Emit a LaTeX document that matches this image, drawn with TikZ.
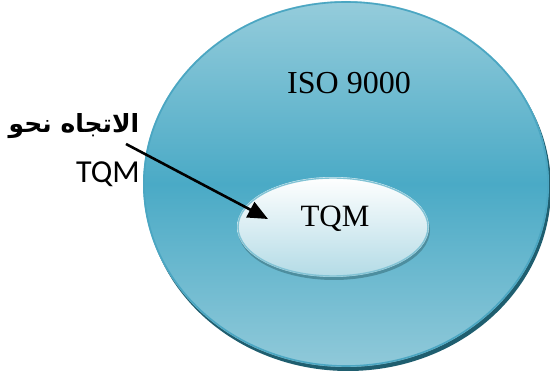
\documentclass[tikz,border=0pt]{standalone}
\usepackage{fontspec}
\setmainfont{Liberation Serif}
\newfontfamily\arabicfont[Script=Arabic]{DejaVu Sans}
\newfontfamily\labelsans{Carlito}
\TeXXeTstate=1
\usetikzlibrary{arrows.meta}
\definecolor{outerTop}{HTML}{95CCDB}
\definecolor{outerMid}{HTML}{4AAAC6}
\definecolor{outerBot}{HTML}{90C9D9}
\definecolor{outerEdge}{HTML}{4BA6C2}
\definecolor{outerShadow}{HTML}{1F5E6F}
\definecolor{innerBot}{HTML}{B3DBE6}
\definecolor{innerEdge}{HTML}{82C3D5}
\definecolor{innerShadow}{HTML}{4D8E9F}
\tikzset{
  pointer/.style={line width=2.6pt,-{Triangle[length=20pt,width=17pt]}},
  serifbig/.style={font=\fontsize{32}{36}\selectfont, inner sep=0pt},
}
\begin{document}
\begin{tikzpicture}[x=1pt,y=1pt]
\useasboundingbox (0,0) rectangle (550,378);
% outer circle: shadow, shaded body, rim
\fill[outerShadow] (348,190) ellipse [x radius=203, y radius=183];
\shade[top color=outerTop, bottom color=outerBot, middle color=outerMid]
  (346,194) ellipse [x radius=203, y radius=183];
\draw[outerEdge, line width=1.6pt] (346,194) ellipse [x radius=202, y radius=182];
% inner ellipse: shadow, shaded body, rim
\fill[innerShadow] (334,148) ellipse [x radius=96, y radius=50];
\shade[top color=white, bottom color=innerBot]
  (333,151) ellipse [x radius=96, y radius=50];
\draw[innerEdge, line width=1.4pt] (333,151) ellipse [x radius=95, y radius=49];
% texts
\node[serifbig] (iso) at (349,295) {ISO 9000};
\node[serifbig, font=\fontsize{31}{36}\selectfont] (tqm) at (335,159) {TQM};
\node[inner sep=0pt, anchor=base, font=\fontsize{25}{30}\arabicfont\bfseries] (ar) at (74,245) {\beginR الاتجاه نحو\endR};
\node[inner sep=0pt, anchor=base east, font=\fontsize{32}{36}\labelsans] (tq) at (140,195) {TQM};
% pointer into the inner ellipse
\coordinate (from) at (126,234);
\coordinate (to) at (268,159);
\draw[pointer] (from) -- (to);
\end{tikzpicture}
\end{document}
